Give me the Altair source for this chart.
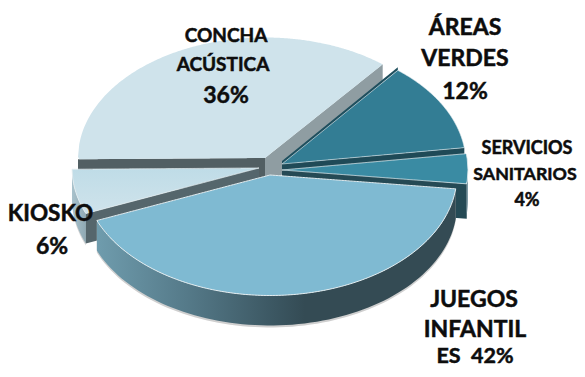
import numpy as np
import pandas as pd
import altair as alt

# ---- chart values, clockwise from the first slice ----
categories = ["ÁREAS VERDES", "SERVICIOS SANITARIOS", "JUEGOS INFANTILES", "KIOSKO", "CONCHA ACÚSTICA"]
shares = [12, 4, 42, 6, 36]
start_angle = 39.0

# ---- label text ----
label_lines = ["CONCHA", "ACÚSTICA", "36%", "ÁREAS", "VERDES", "12%",
               "SERVICIOS", "SANITARIOS", "4%", "KIOSKO", "6%",
               "JUEGOS", "INFANTIL", "ES\u00a0\u00a042%"]
label_x = [226, 223, 226, 465, 465, 465, 527, 525, 527, 50.5, 52, 474, 475, 475]
label_y = [36, 65, 96, 28, 59, 92, 149, 175, 201, 214, 247, 300, 330, 357]
label_size = [19, 19, 23, 23, 23, 23, 18, 17.8, 18, 22.5, 23, 23, 23, 21.5]

# ---- layout of the exploded pie (apex, radii) ----
apex = {"ÁREAS VERDES": (282, 164), "SERVICIOS SANITARIOS": (282, 170),
        "JUEGOS INFANTILES": (270, 175), "KIOSKO": (259, 168), "CONCHA ACÚSTICA": (265, 158)}
rx_by = {"ÁREAS VERDES": 184, "SERVICIOS SANITARIOS": 186, "JUEGOS INFANTILES": 187,
         "KIOSKO": 187, "CONCHA ACÚSTICA": 187}
RY = 120.5
DEPTH = 30

# slice angle ranges come from the shares
ang = {}
a = start_angle
for c, s in zip(categories, shares):
    ang[c] = (a, a + s * 3.6)
    a += s * 3.6


def pt(c, t):
    ax, ay = apex[c]
    r = np.radians(t)
    return ax + rx_by[c] * np.sin(r), ay - RY * np.cos(r)


def surface(c):
    t1, t2 = ang[c]
    ts = np.linspace(t1, t2, 120)
    xs, ys = pt(c, ts)
    px = np.r_[apex[c][0], xs, apex[c][0]]
    py = np.r_[apex[c][1], ys, apex[c][1]]
    grid = np.unique(np.r_[np.linspace(px.min(), px.max(), 240), apex[c][0]])
    rows = []
    for x in grid:
        hits = []
        for i in range(len(px) - 1):
            x0, x1 = px[i], px[i + 1]
            if min(x0, x1) <= x <= max(x0, x1):
                if x0 == x1:
                    hits += [py[i], py[i + 1]]
                else:
                    hits.append(py[i] + (x - x0) / (x1 - x0) * (py[i + 1] - py[i]))
        rows.append((x, min(hits), max(hits)))
    return pd.DataFrame(rows, columns=["x", "y", "y2"])


def outer(c, t1, t2, depth=DEPTH, dy=0):
    xs, ys = pt(c, np.linspace(t1, t2, 80))
    return pd.DataFrame({"x": xs, "y": ys + dy, "y2": ys + depth + dy}).sort_values("x")


def cut(c, t, depth=DEPTH, lift=0):
    tx, ty = pt(c, t)
    ax, ay = apex[c]
    return pd.DataFrame({"x": [ax, tx], "y": [ay - lift, ty - lift], "y2": [ay - lift + depth, ty - lift + depth]}).sort_values("x")


X = alt.Scale(domain=[8, 577], nice=False, zero=False)
Y = alt.Scale(domain=[8, 369], nice=False, zero=False, reverse=True)


def area(df, **mark):
    return alt.Chart(df).mark_area(orient="vertical", **mark).encode(
        x=alt.X("x:Q", scale=X, axis=None),
        y=alt.Y("y:Q", scale=Y, axis=None),
        y2="y2:Q",
    )


def grad(stops, horizontal=True):
    return alt.LinearGradient(
        gradient="linear",
        stops=[alt.GradientStop(color=c, offset=o) for o, c in stops],
        x1=0, y1=0, x2=1 if horizontal else 0, y2=0 if horizontal else 1,
    )


A, S, J, K, C = categories
EDGE = "#e4edf0"
layers = [
    # concha
    area(cut(C, ang[C][0]), color="#525f63"),
    area(cut(C, ang[C][1] - 360), color="#8f9da2"),
    area(surface(C), color="#cfe3eb"),
    # areas
    area(cut(A, ang[A][0], depth=3, lift=3), color="#1f4f5e"),
    area(cut(A, ang[A][1]), color="#1f4a57"),
    area(surface(A), color="#337d94", stroke=EDGE, strokeWidth=0.6),
    # servicios
    area(cut(S, ang[S][1], depth=35), color="#254a55"),
    area(outer(S, 90, ang[S][1]), color="#7f9ba5"),
    area(surface(S), color="#3a8ba3", stroke=EDGE, strokeWidth=0.8),
    # kiosko
    area(outer(K, ang[K][0], 270, dy=2), color="#d5d5d5"),
    area(outer(K, ang[K][0], 270), color=grad([(0, "#a9c2cc"), (1, "#8fa9b4")])),
    area(cut(K, ang[K][0]), color="#55666c"),
    area(surface(K), color=grad([(0, "#bfdce7"), (1, "#cfe3eb")], horizontal=False), stroke=EDGE, strokeWidth=0.8),
    # juegos
    area(outer(J, ang[J][0], ang[J][1], dy=2), color="#cfcfcf"),
    area(outer(J, ang[J][0], ang[J][1]),
         color=grad([(0, "#6f9cad"), (0.25, "#557a89"), (0.5, "#3b5661"), (0.58, "#344b54"), (1, "#344b54")])),
    area(surface(J), color="#7fbad2", stroke=EDGE, strokeWidth=1),
]

labels = pd.DataFrame({"t": label_lines, "x": label_x, "y": label_y, "s": label_size})
text = alt.Chart(labels).mark_text(font="Lato", fontWeight="bold", color="#0d0d0d", stroke="#0d0d0d", strokeWidth=0.5,
                                   baseline="middle", align="center").encode(
    x=alt.X("x:Q", scale=X, axis=None),
    y=alt.Y("y:Q", scale=Y, axis=None),
    text="t:N",
    size=alt.Size("s:Q", scale=None, legend=None),
)

chart = alt.layer(*layers, text).properties(
    width=569, height=361, padding=0, background="white",
    autosize=alt.AutoSizeParams(type="none"),
).configure_view(stroke=None)
chart.save("out.html", embed_options={"renderer": "svg", "actions": False})
